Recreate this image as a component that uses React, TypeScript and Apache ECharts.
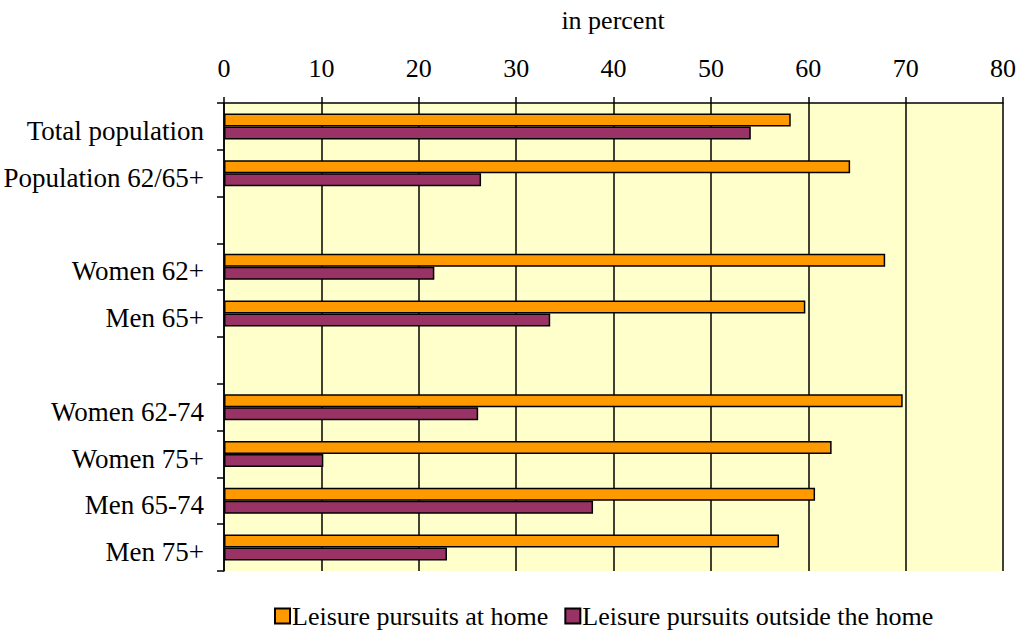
import React, { useEffect, useRef } from "react";
import * as echarts from "echarts";

const categories = [
  "Total population",
  "Population 62/65+",
  "",
  "Women 62+",
  "Men 65+",
  "",
  "Women 62-74",
  "Women 75+",
  "Men 65-74",
  "Men 75+",
];
const atHome = [58.2, 64.3, null, 67.9, 59.7, null, 69.7, 62.4, 60.7, 57.0];
const outsideHome = [54.1, 26.4, null, 21.6, 33.5, null, 26.1, 10.2, 37.9, 22.9];
const seriesNames = ["Leisure pursuits at home", "Leisure pursuits outside the home"];
const xTicks = { min: 0, max: 80, interval: 10 };
const axisTitle = "in percent";

const FONT = "'Liberation Serif', 'Times New Roman', serif";
const FS = 26;

export default function App() {
  const ref = useRef<HTMLDivElement>(null);
  useEffect(() => {
    if (!ref.current) return;
    const chart = echarts.init(ref.current, null, { renderer: "svg" });
    chart.setOption({
      animation: false,
      backgroundColor: "#ffffff",
      textStyle: { fontFamily: FONT },
      grid: {
        left: 224,
        right: 15,
        top: 103,
        bottom: 59,
        show: true,
        backgroundColor: "#FFFFCC",
        borderWidth: 0,
      },
      graphic: [
        {
          type: "text",
          x: 613,
          y: 20,
          style: {
            text: axisTitle,
            fontFamily: FONT,
            fontSize: FS,
            fill: "#000",
            textAlign: "center",
            textVerticalAlign: "middle",
          },
        },
      ],
      legend: {
        left: 274,
        top: 603,
        padding: 0,
        itemWidth: 15,
        itemHeight: 15,
        itemGap: 16,
        icon: "rect",
        textStyle: { fontFamily: FONT, fontSize: FS, color: "#000", padding: [0, 0, 0, -3] },
        data: seriesNames,
      },
      xAxis: {
        type: "value",
        position: "top",
        min: xTicks.min,
        max: xTicks.max,
        interval: xTicks.interval,
        axisLine: { show: true, lineStyle: { color: "#000", width: 1.5 } },
        axisTick: { show: true, length: 6, lineStyle: { color: "#000", width: 1.5 } },
        axisLabel: { fontFamily: FONT, fontSize: FS, color: "#000", margin: 22 },
        splitLine: { show: true, lineStyle: { color: "#000", width: 1.5 } },
      },
      yAxis: {
        type: "category",
        inverse: true,
        data: categories,
        axisLine: { show: true, lineStyle: { color: "#000", width: 1.5 } },
        axisTick: { show: true, length: 7, alignWithLabel: false, lineStyle: { color: "#000", width: 1.5 } },
        axisLabel: {
          fontFamily: FONT,
          fontSize: FS,
          color: "#000",
          margin: 20,
          formatter: (v: string) => (v ? "{a|" + v + "}" : ""),
          rich: {
            a: { fontFamily: FONT, fontSize: 27, color: "#000", padding: [9, 0, 0, 0] },
          },
        },
        splitLine: { show: false },
      },
      series: [
        {
          name: seriesNames[0],
          type: "bar",
          data: atHome,
          barWidth: 13,
          barGap: "0%",
          itemStyle: { color: "#FF9900", borderColor: "#000", borderWidth: 1.5 },
        },
        {
          name: seriesNames[1],
          type: "bar",
          data: outsideHome,
          barWidth: 13,
          barGap: "0%",
          itemStyle: { color: "#993366", borderColor: "#000", borderWidth: 1.5 },
        },
      ],
    });
    return () => chart.dispose();
  }, []);
  return (
    <div
      ref={ref}
      style={{ position: "fixed", left: 0, top: 0, width: 1019, height: 630 }}
    />
  );
}
